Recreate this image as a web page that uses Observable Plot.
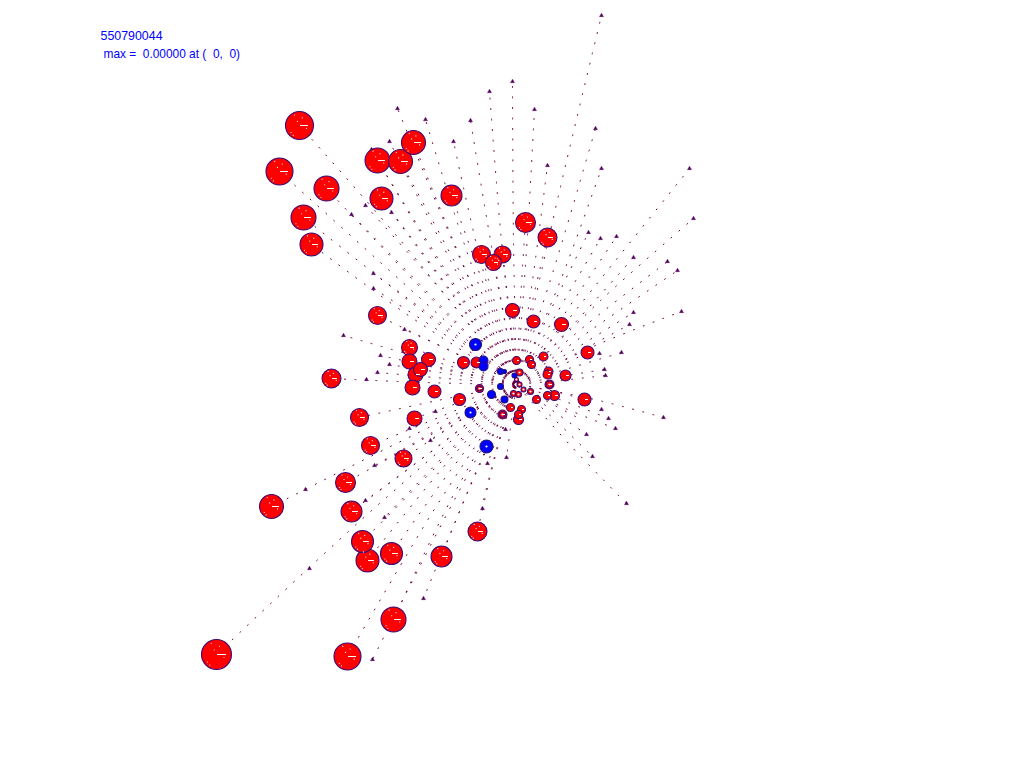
<!DOCTYPE html>
<html><head><meta charset="utf-8">
<script src="https://cdn.jsdelivr.net/npm/d3@7"></script>
<script src="https://cdn.jsdelivr.net/npm/@observablehq/plot@0.6"></script>
<style>html,body{margin:0;padding:0;background:#fff}svg{display:block}</style>
</head><body><div id="chart"></div>
<script>
const labelRun = "550790044";
const labelMax = "max =  0.00000 at (  0,  0)";
const origin = [516, 384];
// each trail: outer end x, outer end y, waypoint x, waypoint y
const trails = [
[601,15,558,195],[512,81,513,240],[489,91,500,230],[534,109,526,250],[470,120,490,240],[453,141,480,260],
[425,119,466,250],[397,108,456,250],[389,141,450,260],[413,142,461,260],[400,161,456,265],[377,160,445,270],
[371,149,440,265],[381,198,450,290],[451,195,485,290],[365,205,445,295],[391,212,456,300],[351,214,435,300],
[373,273,450,330],[373,288,450,338],[299,125,400,240],[279,171,400,280],[326,188,418,285],[303,217,408,300],
[311,244,408,315],[377,315,449,350],[525,222,520,300],[547,237,530,310],[481,254,499,320],[502,254,510,320],
[493,262,505,325],[595,128,556,260],[547,165,532,280],[601,168,560,280],[689,168,595,285],[693,218,600,300],
[588,232,550,310],[616,236,563,315],[600,238,555,315],[633,257,572,325],[667,261,585,325],[677,270,590,330],
[681,311,595,345],[633,312,572,350],[629,324,572,355],[621,352,568,368],[604,369,560,376],[605,375,560,380],
[663,417,590,398],[608,418,562,400],[615,428,565,408],[586,434,552,410],[592,456,555,420],[626,503,570,445],
[584,399,550,390],[587,352,552,369],[561,324,539,355],[533,321,525,350],[512,310,514,345],[506,457,511,420],
[575,416,545,400],[487,463,501,425],[481,508,497,445],[477,531,495,455],[423,598,468,490],[393,619,450,500],
[372,659,443,520],[347,656,430,515],[441,556,476,470],[391,553,450,470],[367,560,440,470],[362,541,437,465],
[351,511,432,450],[345,482,429,435],[271,506,392,445],[216,654,360,520],[384,517,449,450],[365,500,439,445],
[374,465,444,425],[403,458,459,420],[370,445,443,415],[359,417,437,400],[331,378,424,382],[414,418,465,400],
[430,440,472,412],[343,335,430,360],[404,329,460,355],[380,355,448,370],[389,364,452,374],[377,372,446,378],
[409,347,462,365],[409,360,462,372]
];
const tips = [
[601,15],[512,81],[489,91],[534,109],[397,108],[425,119],[470,120],[595,128],[389,141],[453,141],[371,149],
[547,165],[601,168],[689,168],[693,218],[365,205],[351,214],[391,212],[588,232],[616,236],[600,238],[633,257],
[667,261],[677,270],[373,273],[373,288],[681,311],[633,312],[629,324],[343,335],[404,329],[380,355],[389,364],
[377,372],[366,379],[621,352],[599,353],[604,369],[605,375],[663,417],[608,418],[601,409],[615,428],[586,434],
[592,456],[626,503],[506,457],[505,429],[435,411],[409,428],[430,440],[374,465],[365,500],[384,517],[482,508],
[487,463],[305,489],[309,568],[423,598],[372,659]
];
const redCircles = [
[299,125,14],[279,171,13.5],[326,188,12.5],[303,217,12.5],[311,244,11.5],[377,160,12.5],[400,161,12],[413,142,12],
[381,198,11.5],[451,195,10.5],[525,222,10],[547,237,9.5],[481,254,9],[502,254,8.5],[493,262,8],[377,315,9],
[512,310,7],[533,321,6.5],[561,324,7],[587,352,6.5],[409,347,8],[409,361,7.5],[428,359,7],[420,369,7],[415,374,7.5],
[412,387,7.5],[434,391,6.5],[331,378,9.5],[359,417,9],[414,418,7.5],[370,445,9],[403,458,8.5],[345,482,10],
[271,506,12],[351,511,10.5],[362,541,11],[367,560,11.5],[391,553,11],[441,556,10.5],[477,531,9.5],[393,619,12.5],
[216,654,15],[347,656,13.5],[463,362,6],[476,362,5.5],[516,360,4],[529,359,4],[531,364,4],[543,356,4.5],[548,371,4.5],
[547,374,4.5],[565,375,5.5],[549,384,4.5],[547,395,4],[554,395,5],[584,399,6.5],[536,399,4],[459,399,6],[479,388,4],
[510,407,4],[502,414,4.5],[521,409,4],[518,414,4],[518,419,5]
];
const openCircles = [[519,372,3.5],[513,393,3],[518,394,3],[523,389,2.5],[530,391,3],[519,384,2.5],[516,379,2],[479,388,2.5],[549,384,3.5],[502,414,3]];
const blueCircles = [[475,344,6],[483,360,4.5],[483,366,4.5],[470,412,5.5],[486,446,6.5],[491,394,4],[504,399,3.5],[500,371,3],[504,371,2],[500,386,3],[514,375,2.5]];
// white flecks inside a disc, as fractions of its radius
const fleckDx = [-0.45,-0.15,0.2,-0.6,0.5,-0.35];
const fleckDy = [0.7,-0.3,-0.55,0.5,0.2,-0.75];

const trailRows = trails.flatMap((t,i)=>[
  {id:i,x:origin[0],y:origin[1]},{id:i,x:t[2],y:t[3]},{id:i,x:t[0],y:t[1]}
]);
const discs = redCircles.map(c=>({x:c[0],y:c[1],r:c[2]}));
const big = discs.filter(d=>d.r>=8);
const mid = discs.filter(d=>d.r>=4);
const flecks = big.flatMap(d=>fleckDx.map((f,k)=>({x:d.x+f*d.r,y:d.y+fleckDy[k]*d.r})));
const toRow = c=>({x:c[0],y:c[1],r:c[2]});
const rScale = {type:"linear",domain:[0,20],range:[0,20]};
const purple = "#3c0a78";

const plot = Plot.plot({
  width:1024,height:768,margin:0,
  x:{domain:[0,1024],range:[0,1024],axis:null},
  y:{domain:[0,768],range:[0,768],axis:null},
  r:rScale,
  style:{background:"#fff"},
  marks:[
    Plot.line(trailRows,{x:"x",y:"y",z:"id",curve:"catmull-rom",stroke:"#6a0040",strokeWidth:1,strokeDasharray:"1 9.5",strokeDashoffset:-3}),
    Plot.dot(tips,{x:d=>d[0],y:d=>d[1],symbol:"triangle",r:1.5,fill:"#50005a",stroke:"#50005a",strokeWidth:0.4}),
    Plot.dot(discs,{x:"x",y:"y",r:"r",fill:"#ff0000",stroke:purple,strokeWidth:1.1}),
    Plot.dot(openCircles.map(toRow),{x:"x",y:"y",r:"r",fill:"#ff0000",stroke:purple,strokeWidth:1.1}),
    Plot.dot(openCircles.map(toRow),{x:"x",y:"y",r:1.1,fill:"#fff"}),
    Plot.dot(blueCircles.map(toRow),{x:"x",y:"y",r:"r",fill:"#0000ff",stroke:"#20107a",strokeWidth:1.1}),
    Plot.dot(blueCircles.filter(c=>c[2]>=5).map(toRow),{x:"x",y:"y",r:1.1,fill:"#fff"}),
    Plot.link(mid,{x1:"x",y1:"y",x2:d=>d.x+d.r*0.6,y2:"y",stroke:"#fff",strokeWidth:1,shapeRendering:"crispEdges"}),
    Plot.dot(flecks,{x:"x",y:"y",r:0.6,fill:"#fff"}),
    Plot.text([labelRun],{frameAnchor:"top-left",dx:100,dy:31,textAnchor:"start",lineAnchor:"top",fill:"#0000ff",fontSize:12.4,fontFamily:"Liberation Sans"}),
    Plot.text([labelMax],{frameAnchor:"top-left",dx:103,dy:49,textAnchor:"start",lineAnchor:"top",fill:"#0000ff",fontSize:11.9,fontFamily:"Liberation Sans"})
  ]
});
plot.querySelectorAll("text").forEach(t=>t.style.whiteSpace="pre");
document.getElementById("chart").append(plot);
</script></body></html>
